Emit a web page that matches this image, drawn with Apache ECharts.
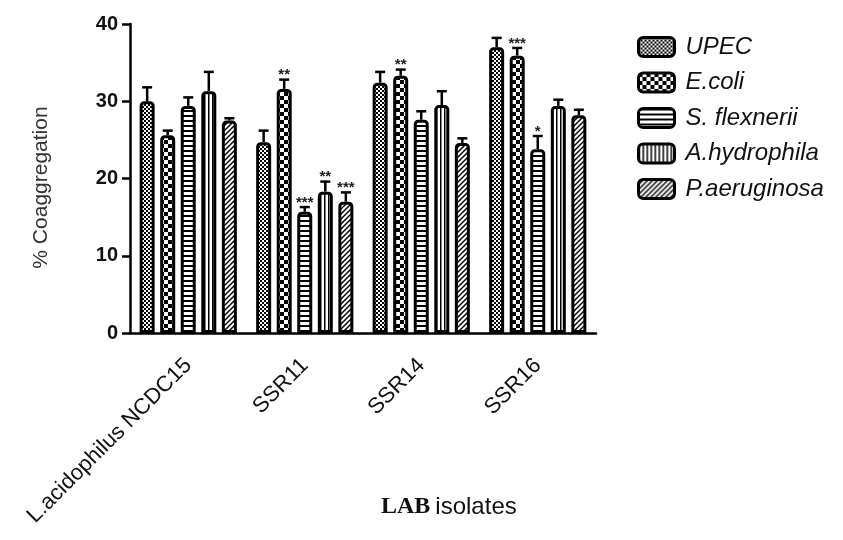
<!DOCTYPE html>
<html>
<head>
<meta charset="utf-8">
<script src="https://cdn.jsdelivr.net/npm/echarts@6/dist/echarts.min.js"></script>
<style>html,body{margin:0;padding:0;background:#fff}#chart{width:843px;height:540px}</style>
</head>
<body>
<div id="chart"></div>
<script>
const categories = ['L.acidophilus NCDC15', 'SSR11', 'SSR14', 'SSR16'];
const seriesNames = ['UPEC', 'E.coli', 'S. flexnerii', 'A.hydrophila', 'P.aeruginosa'];
const upec = [30.0, 24.7, 32.4, 37.0];
const upecErr = [1.8, 1.5, 1.4, 1.2];
const upecSig = ['', '', '', ''];
const ecoli = [25.6, 31.6, 33.3, 35.9];
const ecoliErr = [0.6, 1.2, 0.8, 1.0];
const ecoliSig = ['', '**', '**', '***'];
const sflex = [29.4, 15.7, 27.6, 23.8];
const sflexErr = [1.1, 0.6, 1.1, 1.7];
const sflexSig = ['', '***', '', '*'];
const ahyd = [31.3, 18.3, 29.5, 29.4];
const ahydErr = [2.5, 1.3, 1.8, 0.8];
const ahydSig = ['', '**', '', ''];
const paer = [27.5, 17.0, 24.6, 28.2];
const paerErr = [0.3, 1.2, 0.6, 0.7];
const paerSig = ['', '***', '', ''];
const yTicks = [0, 10, 20, 30, 40];

const values = [upec, ecoli, sflex, ahyd, paer];
const errs = [upecErr, ecoliErr, sflexErr, ahydErr, paerErr];
const sigs = [upecSig, ecoliSig, sflexSig, ahydSig, paerSig];

function makePattern(w, h, draw) {
  const c = document.createElement('canvas');
  c.width = w; c.height = h;
  const g = c.getContext('2d');
  g.fillStyle = '#fff'; g.fillRect(0, 0, w, h);
  g.fillStyle = '#000'; g.strokeStyle = '#000';
  draw(g, w, h);
  return { image: c, repeat: 'repeat' };
}
const patterns = [
  makePattern(4, 4, (g) => { g.fillRect(0, 0, 2, 2); g.fillRect(2, 2, 2, 2); }),
  makePattern(8, 8, (g) => { g.fillRect(0, 0, 4, 4); g.fillRect(4, 4, 4, 4); }),
  makePattern(1, 5, (g) => { g.fillRect(0, 0, 1, 2); }),
  makePattern(4, 1, (g) => { g.fillRect(0, 0, 1.5, 1); }),
  makePattern(5, 5, (g) => {
    g.lineWidth = 1.4;
    g.beginPath(); g.moveTo(-1, 6); g.lineTo(6, -1); g.stroke();
    g.beginPath(); g.moveTo(-1, 1); g.lineTo(1, -1); g.stroke();
    g.beginPath(); g.moveTo(4, 6); g.lineTo(6, 4); g.stroke();
  })
];

const BAR_W = 15;
const BAR_GAP = 0.37;

const series = [];
seriesNames.forEach((name, i) => {
  series.push({
    name: name,
    type: 'bar',
    data: values[i],
    barWidth: BAR_W,
    barGap: (BAR_GAP * 100) + '%',
    itemStyle: { color: patterns[i], borderColor: '#000', borderWidth: 3, borderRadius: [3, 3, 0, 0] },
    z: 2
  });
});
seriesNames.forEach((name, i) => {
  series.push({
    name: name + ' err',
    type: 'custom',
    z: 5,
    data: values[i].map((v, k) => [k, v, errs[i][k]]),
    renderItem: function (params, api) {
      const cat = api.value(0);
      const v = api.value(1);
      const e = api.value(2);
      const sig = sigs[i][params.dataIndex];
      const base = api.coord([cat, v]);
      const top = api.coord([cat, v + e]);
      const off = (i - 2) * BAR_W * (1 + BAR_GAP);
      const x = base[0] + off;
      const children = [
        { type: 'line', shape: { x1: x, y1: base[1], x2: x, y2: top[1] }, style: { stroke: '#000', lineWidth: 2.5 } },
        { type: 'line', shape: { x1: x - 5, y1: top[1], x2: x + 5, y2: top[1] }, style: { stroke: '#000', lineWidth: 2.5 } }
      ];
      if (sig) {
        children.push({ type: 'text', style: { text: sig, x: x, y: top[1] + 3, align: 'center', verticalAlign: 'bottom', font: 'bold 15px "Liberation Sans", Arial, sans-serif', fill: '#222' } });
      }
      return { type: 'group', children: children };
    }
  });
});

const chart = echarts.init(document.getElementById('chart'));
chart.setOption({
  backgroundColor: '#fff',
  animation: false,
  title: {
    text: '{a|LAB} {b|isolates}',
    left: 376,
    top: 490,
    textStyle: {
      fontWeight: 'normal',
      rich: {
        a: { fontFamily: '"Liberation Serif", "Times New Roman", serif', fontWeight: 'bold', fontSize: 24, color: '#111' },
        b: { fontFamily: '"Liberation Sans", Arial, sans-serif', fontWeight: 'normal', fontSize: 24, color: '#111' }
      }
    }
  },
  legend: {
    data: seriesNames,
    orient: 'vertical',
    left: 632,
    top: 30,
    itemWidth: 36,
    itemHeight: 19,
    itemGap: 11.5,
    icon: 'roundRect',
    itemStyle: { borderColor: '#000', borderWidth: 3 },
    textStyle: { fontFamily: '"Liberation Sans", Arial, sans-serif', fontStyle: 'italic', fontSize: 24, color: '#111', padding: [0, 0, 0, 6] },
    selectedMode: false
  },
  grid: { left: 130, right: 247, top: 24, bottom: 207, containLabel: false },
  xAxis: {
    type: 'category',
    data: categories,
    axisLine: { lineStyle: { color: '#000', width: 2.5 } },
    axisTick: { alignWithLabel: true, length: 9, lineStyle: { color: '#000', width: 2.5 } },
    axisLabel: { rotate: 45, margin: 29, fontFamily: '"Liberation Sans", Arial, sans-serif', fontSize: 22, color: '#111' }
  },
  yAxis: {
    type: 'value',
    min: yTicks[0],
    max: yTicks[yTicks.length - 1],
    interval: 10,
    name: '% Coaggregation',
    nameLocation: 'middle',
    nameGap: 78,
    nameTextStyle: { fontFamily: '"Liberation Sans", Arial, sans-serif', fontSize: 21, color: '#333', padding: [0, 18, 0, 0] },
    axisLine: { show: true, lineStyle: { color: '#000', width: 2.5 } },
    axisTick: { show: true, length: 8, lineStyle: { color: '#000', width: 2.5 } },
    axisLabel: { margin: 12, fontFamily: '"Liberation Sans", Arial, sans-serif', fontWeight: 'bold', fontSize: 20, color: '#111' },
    splitLine: { show: false }
  },
  series: series
});
</script>
</body>
</html>
